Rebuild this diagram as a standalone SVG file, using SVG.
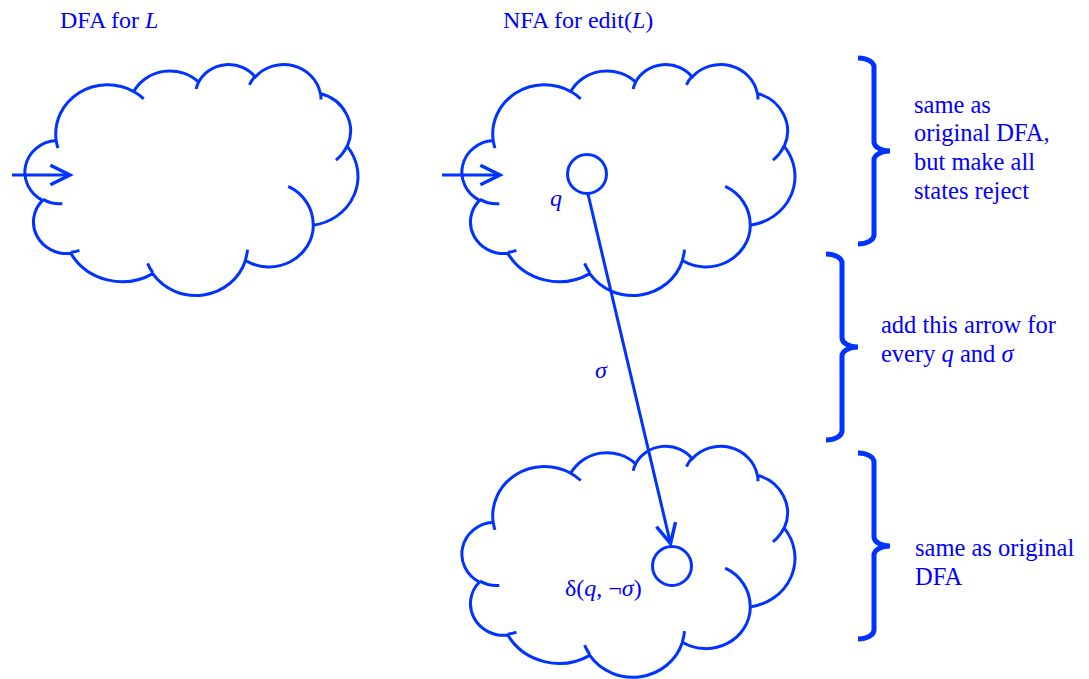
<svg xmlns="http://www.w3.org/2000/svg" xmlns:xlink="http://www.w3.org/1999/xlink" width="1089" height="679" viewBox="0 0 1089 679">
  <style>
    .cloud { fill: none; stroke: #0033ff; stroke-width: 3; }
    .line { fill: none; stroke: #0033ff; stroke-width: 3; }
    .state { fill: #ffffff; stroke: #0033ff; stroke-width: 3; }
    .brace { fill: none; stroke: #0033ff; stroke-width: 5; stroke-linecap: butt; }
    .t { font-family: "Liberation Serif", "Times New Roman", serif; font-size: 24px; fill: #0000ff; }
    .note { font-family: "Liberation Serif", "Times New Roman", serif; font-size: 24.5px; fill: #0000ff; }
    .i { font-style: italic; }
  </style>
  <defs>
    <!-- cloud outline: eleven bumps plus the short inner tails where bumps meet -->
    <path id="cloud" d="M29.93,76.81 A51.83,49.12 0 0 1 107.49,27.80 A40.93,38.84 0 0 1 172.36,18.33 A33.50,31.78 0 0 1 228.98,13.24 A37.28,35.25 0 0 1 294.10,29.79 A40.93,38.87 0 0 1 320.96,82.62 A52.00,49.28 0 0 1 287.08,161.42 A44.40,42.05 0 0 1 219.17,196.76 A51.82,49.25 0 0 1 126.50,209.86 A59.25,56.35 0 0 1 44.57,189.60 A33.46,31.63 0 0 1 16.24,136.56 A33.35,31.78 0 0 1 29.93,76.81 Z M36.02,139.92 A33.35,31.78 0 0 1 16.58,135.66 M53.17,186.54 A33.46,31.63 0 0 1 44.67,188.57 M126.47,208.94 A51.82,49.25 0 0 1 121.34,199.63 M221.25,185.74 A51.82,49.25 0 0 1 219.20,195.95 M261.94,122.69 A44.40,42.05 0 0 1 286.90,160.83 M320.80,82.07 A40.93,38.87 0 0 1 309.68,96.37 M294.14,29.00 A37.28,35.25 0 0 1 294.72,35.76 M223.17,21.12 A37.28,35.25 0 0 1 228.87,12.50 M169.93,25.23 A33.50,31.78 0 0 1 172.69,17.80 M107.45,27.75 A51.83,49.12 0 0 1 117.46,35.01 M31.67,84.39 A51.83,49.12 0 0 1 29.93,76.81"/>
    <!-- right curly brace, drawn from its top-left end -->
    <path id="brace" d="M0,0 A16,9 0 0 1 16,9 L16,84 A16,9 0 0 0 32,93 A16,9 0 0 0 16,102 L16,177 A16,9 0 0 1 0,186"/>
    <marker id="arrow" markerUnits="userSpaceOnUse" markerWidth="30" markerHeight="30" viewBox="-22 -12 26 24" refX="0" refY="0" orient="auto">
      <path d="M-17,-8.5 L0,0 L-17,8.5" fill="none" stroke="#0033ff" stroke-width="3" stroke-linejoin="miter"/>
    </marker>
  </defs>

  <!-- titles -->
  <text class="t" x="60" y="28">DFA for <tspan class="i">L</tspan></text>
  <text class="t" x="503" y="28">NFA for edit(<tspan class="i">L</tspan>)</text>

  <g id="dfa-cloud">
    <use xlink:href="#cloud" href="#cloud" class="cloud" transform="translate(26.26,63.77)"/>
  </g>

  <g id="nfa-top-cloud">
    <use xlink:href="#cloud" href="#cloud" class="cloud" transform="translate(463.26,63.77)"/>
  </g>

  <g id="nfa-bottom-cloud">
    <use xlink:href="#cloud" href="#cloud" class="cloud" transform="translate(463.26,445.5)"/>
  </g>

  <g id="state-q">
    <circle class="state" cx="587" cy="174" r="19.5"/>
    <text class="t i" x="550" y="206">q</text>
  </g>

  <g id="state-delta">
    <circle class="state" cx="672" cy="566" r="19.5"/>
    <text class="t" x="565" y="596" font-size="25.5">δ(<tspan class="i">q</tspan>, ¬<tspan class="i">σ</tspan>)</text>
  </g>

  <g id="connectors">
    <line class="line" x1="12" y1="175" x2="70" y2="175" marker-end="url(#arrow)"/>
    <line class="line" x1="442" y1="175" x2="500" y2="175" marker-end="url(#arrow)"/>
    <line class="line" x1="588" y1="194" x2="670.5" y2="543.5" marker-end="url(#arrow)"/>
    <text class="t i" x="595" y="378">σ</text>
  </g>

  <g id="brace-top">
    <use xlink:href="#brace" href="#brace" class="brace" transform="translate(858,58)"/>
    <text class="note" x="914" y="113">same as</text>
    <text class="note" x="914" y="141">original DFA,</text>
    <text class="note" x="914" y="170">but make all</text>
    <text class="note" x="914" y="199">states reject</text>
  </g>

  <g id="brace-middle">
    <use xlink:href="#brace" href="#brace" class="brace" transform="translate(826,254)"/>
    <text class="note" x="881" y="333">add this arrow for</text>
    <text class="note" x="881" y="362">every <tspan class="i">q</tspan> and <tspan class="i">σ</tspan></text>
  </g>

  <g id="brace-bottom">
    <use xlink:href="#brace" href="#brace" class="brace" transform="translate(858,453)"/>
    <text class="note" x="915" y="556">same as original</text>
    <text class="note" x="915" y="585">DFA</text>
  </g>
</svg>
